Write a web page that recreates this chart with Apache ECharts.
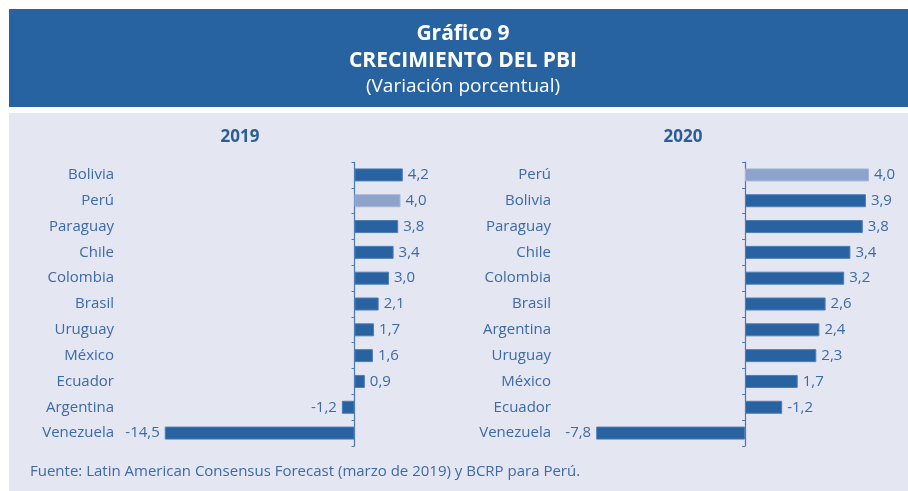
<!DOCTYPE html>
<html>
<head>
<meta charset="utf-8">
<script src="https://cdn.jsdelivr.net/npm/echarts@6/dist/echarts.min.js"></script>
<style>
  html, body { margin: 0; padding: 0; background: #fff; }
  #chart { width: 908px; height: 491px; }
</style>
</head>
<body>
<div id="chart"></div>
<script>
// 2019
const paises2019 = ["Bolivia", "Perú", "Paraguay", "Chile", "Colombia", "Brasil", "Uruguay", "México", "Ecuador", "Argentina", "Venezuela"];
const etiquetas2019 = ["4,2", "4,0", "3,8", "3,4", "3,0", "2,1", "1,7", "1,6", "0,9", "-1,2", "-14,5"];
// largo de barra tal como se dibuja (Venezuela sale fuera de escala en el original)
const barras2019 = [4.2, 4.0, 3.8, 3.4, 3.0, 2.1, 1.7, 1.6, 0.9, -1.1, -16.5];

// 2020
const paises2020 = ["Perú", "Bolivia", "Paraguay", "Chile", "Colombia", "Brasil", "Argentina", "Uruguay", "México", "Ecuador", "Venezuela"];
const etiquetas2020 = ["4,0", "3,9", "3,8", "3,4", "3,2", "2,6", "2,4", "2,3", "1,7", "-1,2", "-7,8"];
const barras2020 = [4.0, 3.9, 3.8, 3.4, 3.2, 2.6, 2.4, 2.3, 1.7, 1.2, -4.8];

const AZUL = "#2862a0";
const AZUL_CLARO = "#8ea3cc";
const TEXTO = "#3c6aa6";
const FONT = "Open Sans";

const chart = echarts.init(document.getElementById("chart"));

function ejeY(idx, cats, margin) {
  return {
    type: "category",
    gridIndex: idx,
    inverse: true,
    data: cats,
    axisLine: { onZero: true, lineStyle: { color: "#4d7ab5", width: 1.2 } },
    axisTick: { show: true, length: 3, lineStyle: { color: "#4d7ab5" } },
    splitLine: { show: false },
    axisLabel: {
      margin: margin, // medido desde el borde izquierdo del grid
      color: TEXTO,
      fontFamily: FONT,
      fontSize: 15,
    },
  };
}

function ejeX(idx, min, max) {
  return {
    type: "value",
    gridIndex: idx,
    min: min,
    max: max,
    show: false,
    splitLine: { show: false },
  };
}

function serie(idx, valores, etiquetas, destacado) {
  return {
    type: "bar",
    xAxisIndex: idx,
    yAxisIndex: idx,
    barWidth: 13,
    emphasis: { disabled: true },
    data: valores.map((v, i) => ({
      value: v,
      itemStyle: {
        color: i === destacado ? AZUL_CLARO : AZUL,
        borderColor: i === destacado ? "#a5b5d6" : "#4f7db5",
        borderWidth: 1,
      },
      label: { position: v < 0 ? "left" : "right" },
    })),
    label: {
      show: true,
      distance: 5,
      color: TEXTO,
      fontFamily: FONT,
      fontSize: 15,
      formatter: (p) => etiquetas[p.dataIndex],
    },
  };
}

const option = {
  animation: false,
  backgroundColor: "#ffffff",
  graphic: [
    { type: "rect", z: -10, shape: { x: 9, y: 9, width: 899, height: 98 }, style: { fill: "#2763a0" } },
    { type: "rect", z: -10, shape: { x: 9, y: 113, width: 899, height: 378 }, style: { fill: "#e4e6f2" } },
    { type: "text", x: 463, y: 34, style: { text: "Gráfico 9", fill: "#fff", font: `bold 21px "${FONT}"`, align: "center", verticalAlign: "middle" } },
    { type: "text", x: 463, y: 61, style: { text: "CRECIMIENTO DEL PBI", fill: "#fff", font: `bold 21px "${FONT}"`, align: "center", verticalAlign: "middle" } },
    { type: "text", x: 463, y: 87, style: { text: "(Variación porcentual)", fill: "#fff", font: `19px "${FONT}"`, align: "center", verticalAlign: "middle" } },
    { type: "text", x: 240, y: 137, style: { text: "2019", fill: "#2a5d9a", font: `bold 17px "${FONT}"`, align: "center", verticalAlign: "middle" } },
    { type: "text", x: 683, y: 137, style: { text: "2020", fill: "#2a5d9a", font: `bold 17px "${FONT}"`, align: "center", verticalAlign: "middle" } },
    { type: "text", x: 30, y: 472, style: { text: "Fuente: Latin American Consensus Forecast (marzo de 2019) y BCRP para Perú.", fill: TEXTO, font: `15px "${FONT}"`, verticalAlign: "middle" } },
  ],
  grid: [
    { left: 159, top: 162, width: 253, height: 284, outerBoundsMode: "none" },
    { left: 590, top: 162, width: 294.5, height: 284, outerBoundsMode: "none" },
  ],
  xAxis: [ejeX(0, -17, 5), ejeX(1, -5, 4.5)],
  yAxis: [ejeY(0, paises2019, 45), ejeY(1, paises2020, 39)],
  series: [
    serie(0, barras2019, etiquetas2019, 1),
    serie(1, barras2020, etiquetas2020, 0),
  ],
};

chart.setOption(option);
window.addEventListener("resize", () => {
  chart.resize();
});
</script>
</body>
</html>
